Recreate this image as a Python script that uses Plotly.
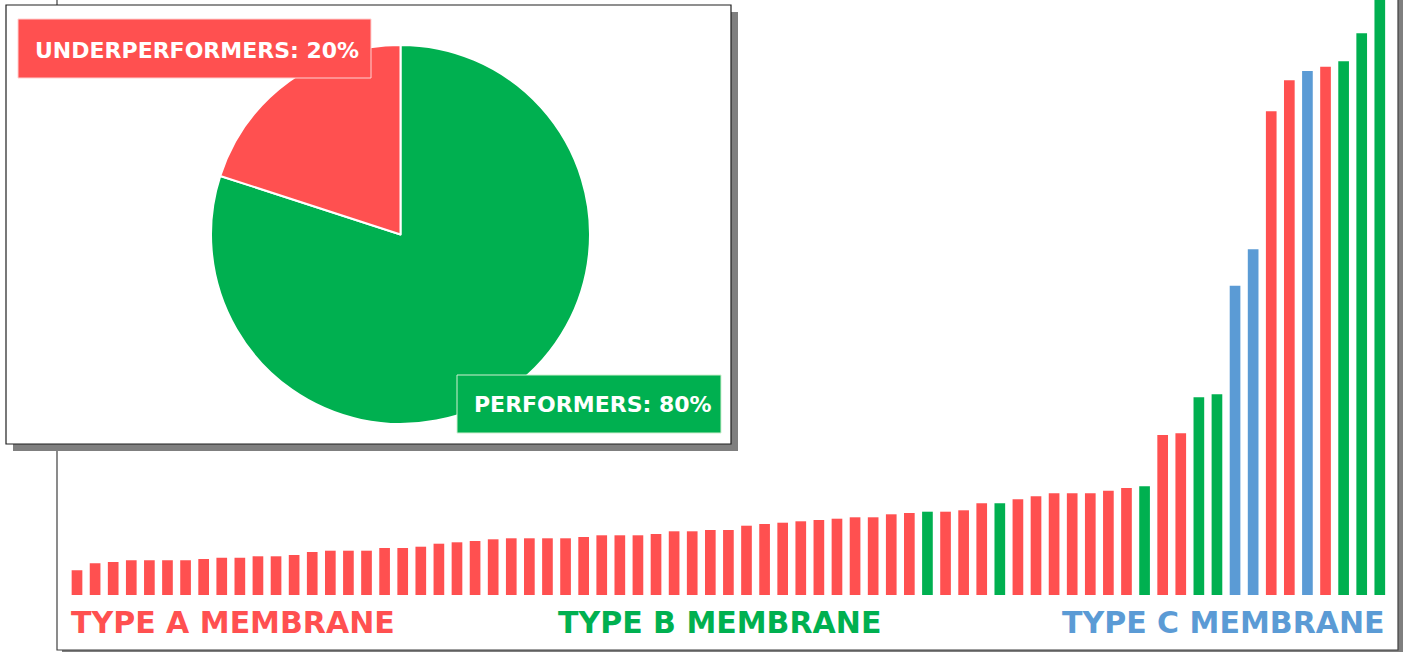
import plotly.graph_objects as go

# ---------------- data ----------------
ranks = list(range(1, 74))
values = [24.7, 31.7, 33.0, 34.7, 34.7, 34.7, 34.7, 36.0, 37.3, 37.3,
          38.7, 38.7, 40.0, 43.0, 44.3, 44.3, 44.3, 47.0, 47.0, 48.3,
          51.3, 52.7, 54.0, 55.7, 56.7, 56.7, 56.7, 56.7, 58.0, 59.7,
          59.7, 59.7, 61.0, 63.7, 63.7, 65.0, 65.0, 69.3, 71.0, 72.3,
          73.7, 75.0, 76.3, 77.7, 77.7, 80.7, 82.0, 83.3, 83.3, 84.7,
          91.7, 91.7, 95.7, 98.7, 101.7, 101.7, 101.7, 104.3, 107.0, 108.7,
          160.0, 161.7, 197.7, 200.7, 309.3, 345.7, 483.7, 514.7, 524.0, 528.3,
          533.7, 561.7, 605.0]
membrane = (["A"] * 47 + ["B"] + ["A"] * 3 + ["B"] + ["A"] * 7 + ["B"]
            + ["A"] * 2 + ["B"] * 2 + ["C"] * 2 + ["A"] * 2 + ["C"] + ["A"]
            + ["B"] * 3)
pie_labels = ["PERFORMERS", "UNDERPERFORMERS"]
pie_values = [80, 20]
type_labels = ["TYPE A MEMBRANE", "TYPE B MEMBRANE", "TYPE C MEMBRANE"]

# ---------------- styles ----------------
W, H = 1403, 652
RED, GREEN, BLUE = "#FF5050", "#00B050", "#5B9BD5"
color_map = {"A": RED, "B": GREEN, "C": BLUE}
pie_color_map = {"PERFORMERS": GREEN, "UNDERPERFORMERS": RED}
FONT = "DejaVu Sans, Verdana, sans-serif"


def px(x):
    return x / W


def py(y):
    return (H - y) / H


fig = go.Figure()

fig.add_trace(go.Bar(
    x=ranks, y=values,
    marker=dict(color=[color_map[m] for m in membrane], line=dict(width=0)),
    hoverinfo="x+y", showlegend=False,
))

fig.add_trace(go.Pie(
    labels=pie_labels, values=pie_values,
    marker=dict(colors=[pie_color_map[l] for l in pie_labels],
                line=dict(color="white", width=2)),
    sort=False, direction="clockwise", rotation=0,
    textinfo="none", showlegend=False,
    domain=dict(x=[px(211), px(590)], y=[py(424), py(45)]),
))

shapes = []
# outer frame shadow + frame
shapes.append(dict(type="rect", xref="paper", yref="paper", layer="below",
                   x0=px(62), x1=px(1403), y0=py(-20), y1=py(656),
                   fillcolor="#7F7F7F", line=dict(width=0)))
shapes.append(dict(type="rect", xref="paper", yref="paper", layer="below",
                   x0=px(57), x1=px(1398), y0=py(-20), y1=py(650),
                   fillcolor="white", line=dict(color="#404040", width=1.2)))
# inset shadow + frame
shapes.append(dict(type="rect", xref="paper", yref="paper", layer="below",
                   x0=px(13), x1=px(738), y0=py(12), y1=py(451),
                   fillcolor="#7F7F7F", line=dict(width=0)))
shapes.append(dict(type="rect", xref="paper", yref="paper", layer="below",
                   x0=px(6), x1=px(731), y0=py(5), y1=py(444),
                   fillcolor="white", line=dict(color="#202020", width=1.2)))
# pie label boxes
shapes.append(dict(type="rect", xref="paper", yref="paper", layer="above",
                   x0=px(18), x1=px(371), y0=py(19), y1=py(78),
                   fillcolor=RED, line=dict(color="#FFD0D0", width=1)))
shapes.append(dict(type="rect", xref="paper", yref="paper", layer="above",
                   x0=px(457), x1=px(721), y0=py(375), y1=py(433),
                   fillcolor=GREEN, line=dict(color="#D0F0D0", width=1)))

annotations = [
    dict(x=px(196.5), y=py(50.5), xref="paper", yref="paper",
         text=f"<b>{pie_labels[1]}: {pie_values[1]}%</b>", showarrow=False,
         xanchor="center", yanchor="middle",
         font=dict(family=FONT, size=22, color="white")),
    dict(x=px(592.5), y=py(404.7), xref="paper", yref="paper",
         text=f"<b>{pie_labels[0]}: {pie_values[0]}%</b>", showarrow=False,
         xanchor="center", yanchor="middle",
         font=dict(family=FONT, size=22, color="white")),
    dict(x=px(69), y=py(622), xref="paper", yref="paper",
         text=f"<b>{type_labels[0]}</b>", showarrow=False,
         xanchor="left", yanchor="middle",
         font=dict(family=FONT, size=30, color=RED)),
    dict(x=px(719), y=py(622), xref="paper", yref="paper",
         text=f"<b>{type_labels[1]}</b>", showarrow=False,
         xanchor="center", yanchor="middle",
         font=dict(family=FONT, size=30, color=GREEN)),
    dict(x=px(1387), y=py(622), xref="paper", yref="paper",
         text=f"<b>{type_labels[2]}</b>", showarrow=False,
         xanchor="right", yanchor="middle",
         font=dict(family=FONT, size=30, color=BLUE)),
]

fig.update_layout(
    width=W, height=H,
    margin=dict(l=0, r=0, t=0, b=0),
    paper_bgcolor="white", plot_bgcolor="rgba(0,0,0,0)",
    bargap=0.41,
    xaxis=dict(domain=[px(67.95), px(1388.85)], range=[0.5, 73.5],
               visible=False, fixedrange=True),
    yaxis=dict(domain=[py(595), 1.0], range=[0, 595],
               visible=False, fixedrange=True),
    shapes=shapes, annotations=annotations,
    showlegend=False,
)

fig.write_html(
    "out.html",
    config={"displayModeBar": False},
    post_script="document.body.style.margin='0';document.body.style.overflow='hidden';",
)
